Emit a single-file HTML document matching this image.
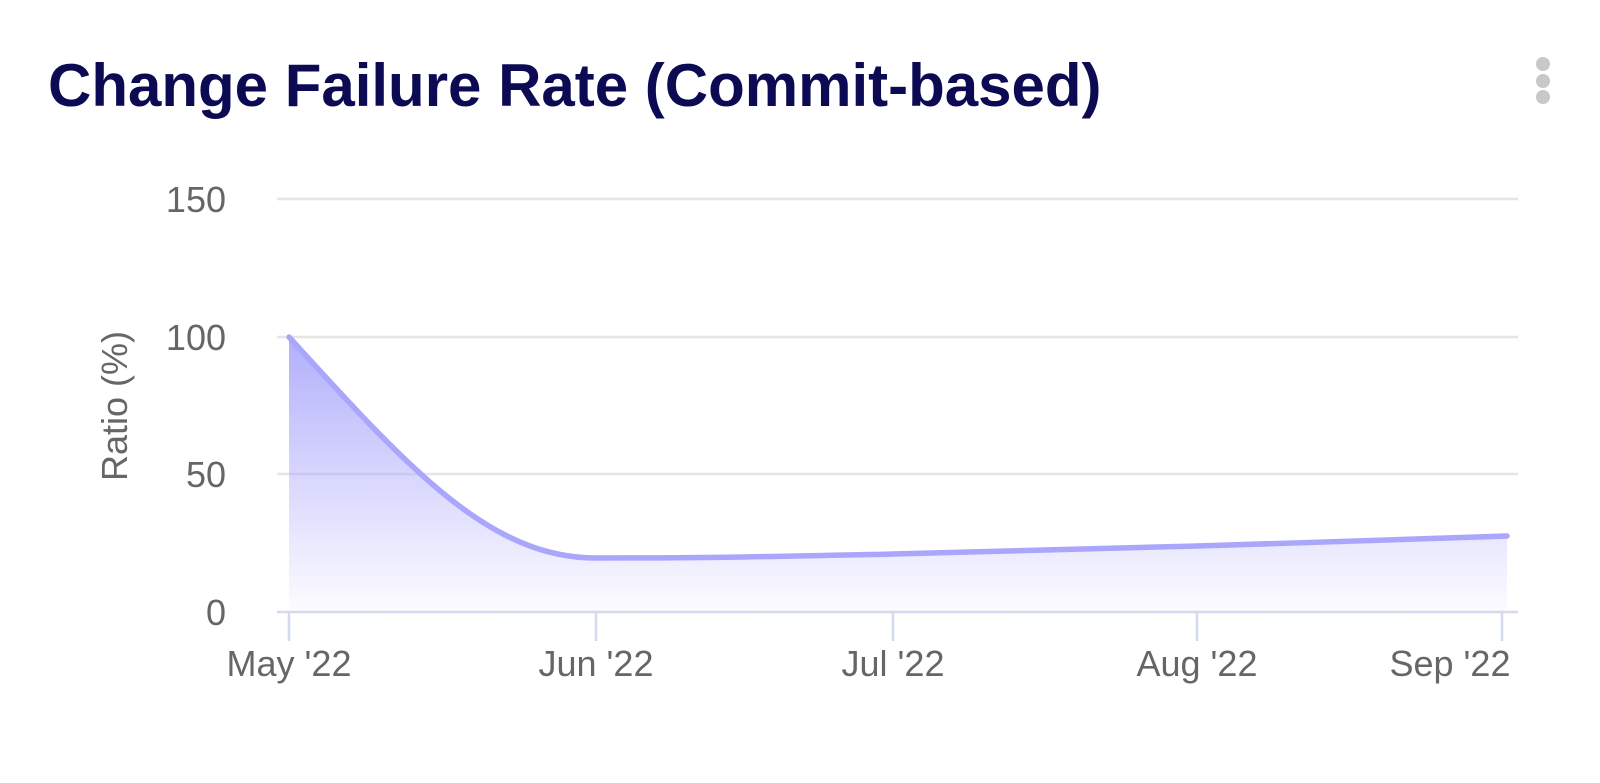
<!DOCTYPE html>
<html><head><style>
body{margin:0;background:#fff;width:1600px;height:783px;overflow:hidden;font-family:"Liberation Sans",sans-serif}
</style></head><body>
<svg width="1600" height="783" xmlns="http://www.w3.org/2000/svg" style="position:absolute;left:0;top:0">
<defs><linearGradient id="g" x1="0" y1="0" x2="0" y2="1">
<stop offset="0" stop-color="#a9a6fb" stop-opacity="0.9"/>
<stop offset="1" stop-color="#a9a6fb" stop-opacity="0.03"/></linearGradient></defs>
<text x="48" y="106" font-size="60" font-weight="bold" fill="#0b0a52">Change Failure Rate (Commit-based)</text>
<circle cx="1543" cy="64" r="7" fill="#c8c8c8"/><circle cx="1543" cy="81" r="7" fill="#c8c8c8"/><circle cx="1543" cy="97" r="7" fill="#c8c8c8"/>
<g stroke="#e6e6e6" stroke-width="2.5"><line x1="277" y1="199" x2="1518" y2="199"/><line x1="277" y1="337" x2="1518" y2="337"/><line x1="277" y1="474" x2="1518" y2="474"/></g>
<g font-size="36" fill="#666" text-anchor="end"><text x="226" y="212">150</text><text x="226" y="350">100</text><text x="226" y="487">50</text><text x="226" y="625">0</text></g>
<text transform="translate(127,406) rotate(-90)" font-size="36" fill="#666" text-anchor="middle">Ratio (%)</text>
<path d="M289,337 C410,470 490,558 596,558 C720,558 800,556 893,554 C1000,551 1100,549 1197,546 C1300,543 1410,539 1507,536 L1507,612 L289,612 Z" fill="url(#g)"/>
<path d="M289,337 C410,470 490,558 596,558 C720,558 800,556 893,554 C1000,551 1100,549 1197,546 C1300,543 1410,539 1507,536" fill="none" stroke="#a9a6fb" stroke-width="5.5" stroke-linecap="round"/>
<g stroke="#d3daf0" stroke-width="2.5"><line x1="277" y1="612" x2="1518" y2="612"/><line x1="289" y1="612" x2="289" y2="641"/><line x1="596" y1="612" x2="596" y2="641"/><line x1="893" y1="612" x2="893" y2="641"/><line x1="1197" y1="612" x2="1197" y2="641"/><line x1="1502" y1="612" x2="1502" y2="641"/></g>
<g font-size="36" fill="#666" text-anchor="middle"><text x="289" y="676">May '22</text><text x="596" y="676">Jun '22</text><text x="893" y="676">Jul '22</text><text x="1197" y="676">Aug '22</text><text x="1450" y="676">Sep '22</text></g>
</svg>
</body></html>
